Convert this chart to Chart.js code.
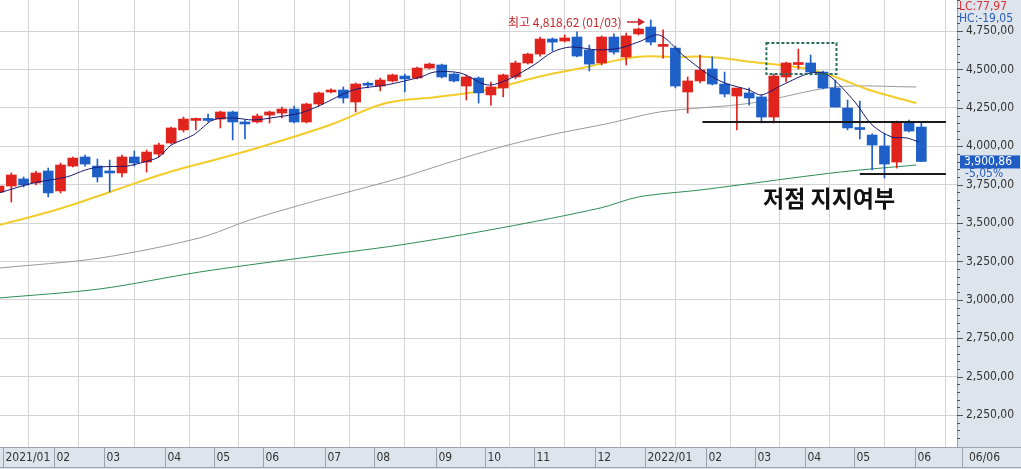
<!DOCTYPE html>
<html><head><meta charset="utf-8">
<script src="https://cdn.jsdelivr.net/npm/chart.js@4"></script>
<style>html,body{margin:0;padding:0;background:#fff}#w{width:1021px;height:469px}</style>
</head><body><div id="w"><canvas id="c"></canvas></div>
<script>
const opens  = [3702,3741,3787,3761,3839,3709,3871,3930,3871,3832,3826,3930,3897,3949,4021,4106,4168,4175,4177,4223,4158,4158,4203,4216,4242,4158,4275,4353,4366,4288,4402,4392,4425,4457,4444,4509,4529,4470,4392,4444,4334,4379,4451,4542,4600,4698,4685,4711,4627,4542,4711,4581,4731,4776,4650,4639,4353,4425,4503,4405,4327,4347,4321,4190,4451,4532,4542,4483,4379,4249,4115,4073,4002,3897,4158,4125];
const highs  = [3754,3826,3800,3839,3858,3891,3930,3943,3917,3910,3943,3969,3976,4021,4125,4190,4184,4210,4229,4229,4171,4210,4229,4255,4262,4281,4353,4373,4386,4412,4418,4444,4470,4470,4515,4542,4535,4477,4464,4451,4418,4470,4555,4606,4711,4705,4724,4744,4659,4718,4731,4737,4770,4822,4757,4652,4451,4594,4581,4483,4379,4379,4334,4470,4548,4633,4594,4490,4431,4301,4294,4080,4080,4164,4171,4151];
const lows   = [3683,3637,3735,3748,3670,3696,3865,3871,3767,3702,3800,3871,3832,3930,4015,4093,4106,4158,4119,4041,4047,4151,4151,4184,4151,4151,4262,4347,4281,4223,4379,4360,4418,4353,4438,4503,4444,4418,4301,4281,4268,4321,4438,4535,4587,4620,4678,4581,4490,4529,4600,4529,4724,4659,4574,4380,4216,4412,4399,4321,4106,4268,4152,4152,4418,4503,4464,4373,4255,4106,4047,3845,3793,3858,4093,3901];
const closes = [3741,3813,3748,3826,3696,3878,3923,3884,3800,3826,3930,3891,3962,4008,4119,4177,4175,4168,4223,4158,4145,4197,4223,4242,4158,4275,4347,4366,4314,4405,4397,4431,4464,4438,4509,4535,4451,4425,4451,4347,4386,4464,4542,4600,4698,4678,4705,4587,4535,4711,4613,4718,4763,4678,4655,4392,4425,4496,4405,4340,4379,4314,4190,4457,4542,4535,4483,4379,4255,4119,4109,4008,3884,4158,4099,3901];
const ma5X  = [0,2.8,5.5,7,8.2,10.4,11.5,13,14,15.8,17.4,19,20.7,22.6,24.5,26,28.8,31.5,34.3,35.4,37.5,39.7,41.3,43.5,45,46.5,48.7,50.5,52,53.7,55.6,57.5,59,61,62,63.7,66,67.4,69.6,71,72.6,73.8,74.8];
const ma5Y  = [3696,3761,3800,3845,3865,3871,3891,3930,4008,4073,4171,4184,4171,4190,4216,4262,4366,4399,4451,4483,4477,4399,4431,4529,4613,4646,4627,4639,4679,4724,4594,4477,4412,4366,4334,4399,4477,4464,4288,4138,4060,4054,4028];
const ma20X = [0,4.6,8.8,13.6,19,21.8,26.9,31.5,35.6,39.7,43.8,47.8,51.8,54.8,57.8,61.3,65.4,68,70.8,74.6];
const ma20Y = [3487,3585,3696,3826,3943,4008,4138,4281,4321,4366,4451,4516,4581,4581,4581,4548,4509,4451,4366,4281];
const ma60X = [0,8.2,16.3,20.4,24.5,26.9,32.6,36.7,40.8,44.8,49.7,53.7,61.2,68,74.6];
const ma60Y = [3207,3272,3403,3520,3617,3670,3793,3897,3995,4073,4151,4223,4281,4386,4386];
const ma120X = [0,8.2,16.3,24.5,32.6,40.8,48.9,52,57,60.2,68.4,74.6];
const ma120Y = [3012,3071,3181,3272,3357,3468,3598,3670,3715,3748,3832,3878];
const monthPos = [0.3,4.5,8.5,13.5,17.5,21.5,26.5,30.5,35.5,39.5,43.5,48.5,52.5,57.5,61.5,65.5,69.5,74.5];
const monthLabels = ['2021/01','02','03','04','05','06','07','08','09','10','11','12','2022/01','02','03','04','05','06'];
const yTicks = [2250,2500,2750,3000,3250,3500,3750,4000,4250,4500,4750];
const lastClose = 3900.86, lastPct = '-5,05%';
const supportHi = 4158, supportLo = 3819;

const RED='#e0231d', BLUE='#1e5fc8';
const FONT="'Liberation Sans Narrow','DejaVu Sans Condensed',sans-serif";
const fmtNum = v => { const s=v.toFixed(2).split('.'); return s[0].replace(/\B(?=(\d{3})+(?!\d))/g,',')+','+s[1]; };

const idx = closes.map((_,i)=>i);
const col = idx.map(i=> closes[i]>=opens[i]?RED:BLUE);
const line=(xs,ys)=>xs.map((x,i)=>({x, y:ys[i]}));

const bg = {id:'bg', beforeDraw(ch){
  const {ctx, chartArea:a}=ch;
  ctx.save();
  ctx.fillStyle='#dde4ec';
  ctx.fillRect(a.right,0,ch.width-a.right,ch.height);
  ctx.fillRect(0,a.bottom,ch.width,ch.height-a.bottom);
  ctx.restore();
}};
const deco = {id:'deco', afterDraw(ch){
  const {ctx, chartArea:a, scales:{x,y}}=ch;
  ctx.save();
  ctx.strokeStyle='#9aa3ad'; ctx.lineWidth=1;
  ctx.beginPath(); ctx.moveTo(a.right+0.5,0); ctx.lineTo(a.right+0.5,a.bottom);
  ctx.moveTo(0,a.bottom+0.5); ctx.lineTo(ch.width,a.bottom+0.5);
  ctx.moveTo(0,ch.height-1.5); ctx.lineTo(ch.width,ch.height-1.5); ctx.stroke();
  ctx.strokeStyle='#555';
  for(let v=2100; v<=4950; v+=50){
    const py=Math.round(y.getPixelForValue(v))+0.5;
    ctx.beginPath(); ctx.moveTo(a.right,py); ctx.lineTo(a.right+(v%250===0?6:3),py); ctx.stroke();
  }
  ctx.font='12px '+FONT; ctx.fillStyle='#333'; ctx.textBaseline='middle'; ctx.textAlign='left';
  yTicks.forEach(v=>ctx.fillText(fmtNum(v), a.right+9, y.getPixelForValue(v)));
  ctx.strokeStyle='#9aa3ad';
  monthPos.forEach((p,i)=>{
    const px=Math.round(x.getPixelForValue(p))+0.5;
    ctx.beginPath(); ctx.moveTo(px,a.bottom); ctx.lineTo(px,ch.height-2); ctx.stroke();
    ctx.fillText(monthLabels[i], px+2, a.bottom+11);
  });
  ctx.beginPath(); ctx.moveTo(a.right+5.5,a.bottom); ctx.lineTo(a.right+5.5,ch.height-2); ctx.stroke();
  ctx.fillText('06/06', a.right+12, a.bottom+11);
  const py=y.getPixelForValue(lastClose);
  ctx.fillStyle='#1f5cc4'; ctx.fillRect(a.right+3,py-6,60,13);
  ctx.fillStyle='#fff'; ctx.fillText(fmtNum(lastClose), a.right+7, py+0.5);
  ctx.fillStyle='#2a5db8'; ctx.fillText(lastPct, a.right+8, py+12);
  ctx.fillStyle='#d33'; ctx.fillText('LC:77,97', a.right+2, 7);
  ctx.fillStyle='#2a5db8'; ctx.fillText('HC:-19,05', a.right+2, 19);
  ctx.strokeStyle='#1a1a1a'; ctx.lineWidth=2;
  const l1=y.getPixelForValue(supportHi), l2=y.getPixelForValue(supportLo);
  ctx.beginPath(); ctx.moveTo(x.getPixelForValue(57.2),l1); ctx.lineTo(x.getPixelForValue(77),l1);
  ctx.moveTo(x.getPixelForValue(70),l2); ctx.lineTo(x.getPixelForValue(77),l2); ctx.stroke();
  ctx.strokeStyle='#2b6e5e'; ctx.lineWidth=2; ctx.setLineDash([3,2]);
  const bx1=x.getPixelForValue(62.4), bx2=x.getPixelForValue(68.1), by1=y.getPixelForValue(4672), by2=y.getPixelForValue(4470);
  ctx.strokeRect(bx1,by1,bx2-bx1,by2-by1); ctx.setLineDash([]);
  ctx.fillStyle='#111'; ctx.font="bold 23px 'Noto Sans CJK KR',sans-serif"; ctx.textAlign='left';
  ctx.fillText('저점 지지여부', 763, 198);
  ctx.fillStyle='#c8262a'; ctx.font="12px 'Noto Sans CJK KR',sans-serif";
  const hy=y.getPixelForValue(4822);
  ctx.fillText('최고 4,818,62 (01/03)', 508, hy+2);
  ctx.strokeStyle='#c8262a'; ctx.lineWidth=1.5;
  ctx.beginPath(); ctx.moveTo(627,hy+2); ctx.lineTo(642,hy+2); ctx.stroke();
  ctx.beginPath(); ctx.moveTo(645,hy+2); ctx.lineTo(638,hy-2); ctx.lineTo(638,hy+6); ctx.closePath(); ctx.fill();
  ctx.restore();
}};

new Chart(document.getElementById('c'), {
  data:{datasets:[
    {type:'line', data:line(ma120X,ma120Y), borderColor:'#2e8b57', borderWidth:1, pointRadius:0, tension:0.3, order:5},
    {type:'line', data:line(ma60X,ma60Y), borderColor:'#999', borderWidth:1, pointRadius:0, tension:0.3, order:5},
    {type:'line', data:line(ma20X,ma20Y), borderColor:'#f2cc2a', borderWidth:2, pointRadius:0, tension:0.4, order:4},
    {type:'bar', data:idx.map(i=>({x:i,y:[lows[i],highs[i]]})), backgroundColor:col, barThickness:1, grouped:false, order:3},
    {type:'bar', data:idx.map(i=>({x:i,y:[opens[i],closes[i]]})), backgroundColor:col, barThickness:10, minBarLength:2, grouped:false, order:2},
    {type:'line', data:line(ma5X,ma5Y), borderColor:'#1a1a70', borderWidth:1, pointRadius:0, tension:0.3, order:1},
  ]},
  options:{
    responsive:true, maintainAspectRatio:false, animation:false,
    layout:{padding:{right:64,bottom:22,left:0,top:0}},
    plugins:{legend:{display:false}, tooltip:{enabled:false}},
    scales:{
      x:{type:'linear', min:0.08, max:77.9, offset:false,
        afterBuildTicks:s=>{s.ticks=monthPos.map(v=>({value:v}));},
        ticks:{display:false}, grid:{color:'#d4d4d4', drawTicks:false}, border:{display:false}},
      y:{position:'right', min:2042, max:4952,
        afterBuildTicks:s=>{s.ticks=yTicks.map(v=>({value:v}));},
        afterFit:s=>{s.width=0;},
        ticks:{display:false}, grid:{color:'#d4d4d4', drawTicks:false}, border:{display:false}}
    }
  },
  plugins:[bg,deco]
});
</script></body></html>
